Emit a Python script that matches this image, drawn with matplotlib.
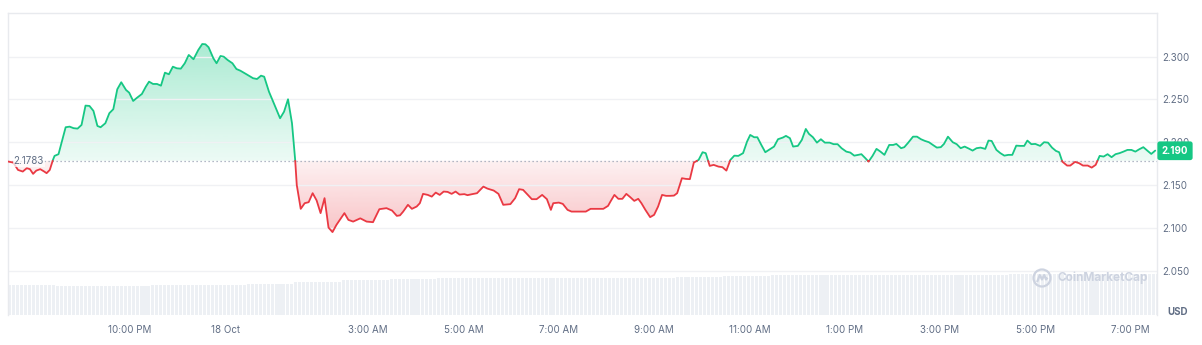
import numpy as np
import matplotlib
matplotlib.use("Agg")
import matplotlib.pyplot as plt
from matplotlib.collections import LineCollection
from matplotlib.path import Path
import matplotlib.patches as mpatches
from matplotlib.colors import to_rgb

plt.rcParams['font.family'] = ['Inter', 'DejaVu Sans']

# ---- data: minutes relative to 18 Oct 00:00, price in USD ----
minutes = [-274, -267, -261, -255, -250, -246, -242, -238, -233, -228, -225, -221, -217, -215, -210,
           -201, -196, -191, -186, -181, -176, -171, -166, -161, -157, -151, -146, -141, -136, -131,
           -125, -121, -116, -111, -105, -100, -96, -91, -86, -81, -76, -71, -66, -61, -56,
           -51, -46, -40, -34, -29, -25, -21, -15, -11, -6, -2, 3, 9, 14, 19,
           26, 35, 40, 45, 49, 55, 62, 69, 74, 79, 84, 88, 90, 95, 100,
           105, 110, 115, 120, 125, 130, 135, 140, 150, 155, 161, 170, 178, 186, 194,
           203, 210, 216, 220, 224, 230, 235, 241, 245, 249, 255, 260, 265, 270, 275,
           280, 285, 290, 295, 301, 305, 311, 317, 321, 325, 330, 338, 344, 350, 359,
           365, 370, 375, 381, 386, 392, 399, 405, 410, 413, 420, 425, 431, 436, 454,
           460, 476, 482, 485, 490, 495, 500, 505, 510, 515, 520, 524, 529, 535, 540,
           545, 550, 555, 560, 565, 569, 575, 580, 585, 590, 596, 601, 605, 610, 615,
           621, 626, 631, 636, 641, 646, 652, 657, 661, 666, 670, 675, 680, 686, 691,
           696, 702, 706, 711, 715, 721, 726, 731, 735, 740, 745, 750, 755, 761, 766,
           771, 776, 782, 787, 792, 797, 801, 806, 810, 815, 820, 825, 830, 836, 841,
           845, 851, 855, 860, 866, 871, 876, 881, 886, 891, 896, 901, 905, 910, 916,
           921, 926, 931, 937, 941, 946, 951, 957, 961, 965, 971, 976, 981, 986, 991,
           996, 1001, 1006, 1010, 1015, 1020, 1026, 1031, 1036, 1041, 1046, 1050, 1054, 1060, 1064,
           1070, 1075, 1080, 1086, 1091, 1096, 1101, 1106, 1111, 1116, 1121, 1126, 1131, 1136, 1141,
           1146, 1151, 1156, 1161, 1166, 1171]

prices = [2.1775, 2.1762, 2.1676, 2.1657, 2.1696, 2.1685, 2.1630, 2.1668, 2.1685, 2.1657, 2.1638, 2.1676, 2.1793, 2.1840, 2.1860,
          2.2175, 2.2182, 2.2164, 2.2159, 2.2202, 2.2428, 2.2424, 2.2366, 2.2190, 2.2175, 2.2222, 2.2339, 2.2386, 2.2619, 2.2701,
          2.2611, 2.2579, 2.2482, 2.2521, 2.2564, 2.2650, 2.2708, 2.2681, 2.2681, 2.2661, 2.2813, 2.2794, 2.2883, 2.2864, 2.2860,
          2.2923, 2.3020, 2.2970, 2.3078, 2.3148, 2.3145, 2.3110, 2.2981, 2.2923, 2.3008, 2.3000, 2.2961, 2.2923, 2.2856, 2.2836,
          2.2798, 2.2748, 2.2739, 2.2778, 2.2766, 2.2591, 2.2436, 2.2280, 2.2357, 2.2502, 2.2222, 2.1793, 2.1501, 2.1221, 2.1287,
          2.1299, 2.1404, 2.1320, 2.1171, 2.1346, 2.1002, 2.0949, 2.1034, 2.1171, 2.1092, 2.1072, 2.1110, 2.1072, 2.1065, 2.1217,
          2.1229, 2.1201, 2.1139, 2.1145, 2.1189, 2.1268, 2.1221, 2.1248, 2.1287, 2.1396, 2.1384, 2.1364, 2.1411, 2.1384, 2.1423,
          2.1419, 2.1396, 2.1423, 2.1388, 2.1393, 2.1381, 2.1393, 2.1404, 2.1443, 2.1481, 2.1458, 2.1435, 2.1396, 2.1268, 2.1276,
          2.1346, 2.1451, 2.1443, 2.1384, 2.1334, 2.1334, 2.1384, 2.1334, 2.1209, 2.1287, 2.1294, 2.1279, 2.1209, 2.1189, 2.1189,
          2.1221, 2.1221, 2.1256, 2.1306, 2.1384, 2.1338, 2.1338, 2.1396, 2.1357, 2.1314, 2.1338, 2.1287, 2.1209, 2.1124, 2.1151,
          2.1248, 2.1384, 2.1373, 2.1373, 2.1376, 2.1404, 2.1579, 2.1571, 2.1568, 2.1762, 2.1793, 2.1883, 2.1872, 2.1723, 2.1735,
          2.1715, 2.1708, 2.1668, 2.1793, 2.1843, 2.1840, 2.1872, 2.2007, 2.2085, 2.2058, 2.2058, 2.1968, 2.1883, 2.1919, 2.1949,
          2.2035, 2.2054, 2.2074, 2.2047, 2.1949, 2.1957, 2.2027, 2.2155, 2.2097, 2.2058, 2.1995, 2.2035, 2.1995, 2.1995, 2.1977,
          2.1977, 2.1930, 2.1890, 2.1879, 2.1843, 2.1852, 2.1860, 2.1813, 2.1773, 2.1840, 2.1922, 2.1890, 2.1852, 2.1968, 2.1968,
          2.1980, 2.1930, 2.1942, 2.1995, 2.2065, 2.2065, 2.2035, 2.2015, 2.2000, 2.1968, 2.1937, 2.1942, 2.1980, 2.2065, 2.2000,
          2.1977, 2.1930, 2.1949, 2.1922, 2.1902, 2.1930, 2.1937, 2.1922, 2.2019, 2.2015, 2.1910, 2.1872, 2.1843, 2.1852, 2.1852,
          2.1960, 2.1957, 2.1957, 2.2019, 2.1977, 2.1980, 2.1957, 2.2000, 2.1995, 2.1937, 2.1898, 2.1883, 2.1773, 2.1727, 2.1727,
          2.1770, 2.1755, 2.1727, 2.1727, 2.1703, 2.1735, 2.1840, 2.1832, 2.1860, 2.1825, 2.1860, 2.1872, 2.1890, 2.1910, 2.1910,
          2.1890, 2.1918, 2.1942, 2.1902, 2.1863, 2.1902]

base_price = 2.1783
last_price = "2.190"

# rolling volume level per hour (billions, arbitrary scale) starting 19:26 on 17 Oct
vol_hourly = [3.00, 2.95, 2.95, 3.00, 3.05, 3.10, 3.35, 3.55, 3.65, 3.70, 3.70, 3.73,
              3.73, 3.75, 3.85, 3.95, 4.00, 4.00, 4.00, 4.00, 4.05, 4.10, 4.10, 4.10, 4.10]

y_ticks = [2.05, 2.10, 2.15, 2.20, 2.25, 2.30]
x_tick_hours = [-2, 0, 3, 5, 7, 9, 11, 13, 15, 17, 19]
x_tick_labels = ['10:00 PM', '18 Oct', '3:00 AM', '5:00 AM', '7:00 AM', '9:00 AM',
                 '11:00 AM', '1:00 PM', '3:00 PM', '5:00 PM', '7:00 PM']

GREEN = '#16c784'
RED = '#ea3943'
TXT = '#616e85'

t = np.array(minutes) / 60.0
p = np.array(prices)

W, H = 1202, 345
fig = plt.figure(figsize=(W / 100, H / 100), dpi=100)
pos = [8 / W, 30 / H, 1149.3 / W, 301.7 / H]
XL = (-4.56, 19.56)
YL = (1.998, 2.3507)

# volume axes (behind)
axv = fig.add_axes(pos)
axv.set_xlim(*XL)
axv.set_ylim(0, 30.17)
axv.axis('off')
step = 5 / 60
nb = len(vol_hourly) * 12
bt = XL[0] + np.arange(nb) * step + step / 2
bh = np.repeat(vol_hourly, 12)
axv.bar(bt, bh, width=step * 0.76, color='#edf0f4', linewidth=0, zorder=1,
        antialiased=False)

ax = fig.add_axes(pos)
ax.patch.set_alpha(0)
ax.set_xlim(*XL)
ax.set_ylim(*YL)

# grid
ax.set_yticks(y_ticks)
ax.yaxis.tick_right()
ax.set_yticklabels([f"{v:.3f}" for v in y_ticks])
ax.grid(axis='y', color='#f0f1f4', lw=1.0, zorder=0)
ax.tick_params(axis='y', length=0, pad=3.6, labelsize=7, labelcolor=TXT)
ax.set_xticks(x_tick_hours)
ax.set_xticklabels(x_tick_labels)
ax.tick_params(axis='x', length=0, pad=7, labelsize=7, labelcolor=TXT)
for s in ['top', 'left', 'right']:
    ax.spines[s].set_color('#e8eaee')
    ax.spines[s].set_linewidth(1.0)
ax.spines['bottom'].set_visible(False)


def gradient_fill(where, color, a_lo, a_hi, y0, y1):
    fb = ax.fill_between(t, p, base_price, where=where, interpolate=True,
                         color='none', linewidth=0)
    paths = fb.get_paths()
    fb.remove()
    if not paths:
        return
    cp = Path.make_compound_path(*paths)
    rgb = to_rgb(color)
    n = 256
    img = np.zeros((n, 1, 4))
    img[:, 0, 0], img[:, 0, 1], img[:, 0, 2] = rgb
    img[:, 0, 3] = np.linspace(a_lo, a_hi, n)
    im = ax.imshow(img, extent=[XL[0], XL[1], y0, y1], aspect='auto',
                   origin='lower', zorder=1, interpolation='bilinear')
    im.set_clip_path(cp, transform=ax.transData)


gradient_fill(p >= base_price, GREEN, 0.08, 0.36, base_price, p.max())
gradient_fill(p <= base_price, RED, 0.30, 0.07, p.min(), base_price)
ax.set_xlim(*XL)
ax.set_ylim(*YL)

# split line into above / below segments
up_segs, dn_segs = [], []
cur = [(t[0], p[0])]
cur_up = p[0] >= base_price
for i in range(1, len(t)):
    up = p[i] >= base_price
    if up != cur_up:
        f = (base_price - p[i - 1]) / (p[i] - p[i - 1])
        tc = t[i - 1] + f * (t[i] - t[i - 1])
        cur.append((tc, base_price))
        (up_segs if cur_up else dn_segs).append(cur)
        cur = [(tc, base_price)]
        cur_up = up
    cur.append((t[i], p[i]))
(up_segs if cur_up else dn_segs).append(cur)

ax.add_collection(LineCollection(up_segs, colors=GREEN, linewidths=1.3,
                                 capstyle='round', joinstyle='round', zorder=3))
ax.add_collection(LineCollection(dn_segs, colors=RED, linewidths=1.3,
                                 capstyle='round', joinstyle='round', zorder=3))

# baseline
ax.axhline(base_price, color='#9aa3b5', lw=0.9, ls=(0, (1, 2.2)), zorder=2)
ax.text(0.005, base_price, f"{base_price:.4f}", transform=ax.get_yaxis_transform(),
        ha='left', va='center', fontsize=7, color=TXT, zorder=4,
        bbox=dict(boxstyle='square,pad=0.1', fc='white', ec='none', alpha=0.75))

# last price badge
ax.annotate(last_price, xy=(1.0154, 2.190), xycoords=('axes fraction', 'data'),
            ha='center', va='center', fontsize=7, fontweight='bold', color='white',
            annotation_clip=False, zorder=6,
            bbox=dict(boxstyle='round,pad=0.45,rounding_size=0.25', fc=GREEN, ec='none'))

# USD label
fig.text(1178 / W, 1 - 312 / H, 'USD', ha='center', va='center', fontsize=7,
         fontweight='bold', color=TXT)

# watermark
wm = '#cdd3e0'
fig.text(1058 / W, 1 - 278 / H, 'CoinMarketCap', ha='left', va='center', fontsize=8.5,
         fontweight='bold', color=wm)
cx, cy = 1042 / W, 1 - 278 / H
fig.patches.append(mpatches.Ellipse((cx, cy), 17 / W, 17 / H, transform=fig.transFigure,
                                    fc='none', ec=wm, lw=1.6))
mx = np.array([-4.5, -2.2, 0, 2.2, 4.0, 4.8])
my = np.array([-3, 3, -1.5, 3, -1.5, -0.5])
fig.lines.append(plt.Line2D(cx + mx / W, cy + my / H, transform=fig.transFigure,
                            color=wm, lw=1.6, solid_joinstyle='round'))

fig.savefig('out.png', dpi=100)
